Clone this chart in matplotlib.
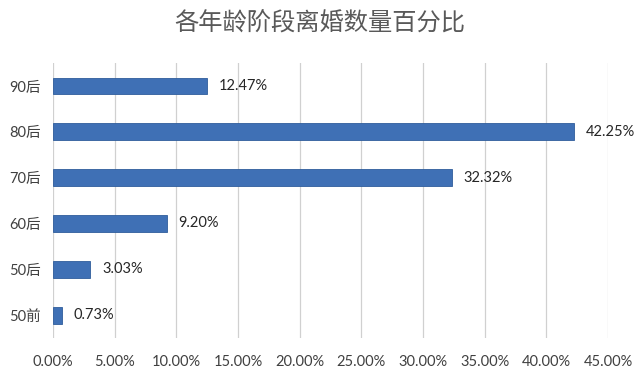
import matplotlib
matplotlib.use('Agg')
import matplotlib.pyplot as plt
from matplotlib.ticker import FuncFormatter

plt.rcParams['font.family'] = ['Lato', 'Noto Sans CJK SC', 'DejaVu Sans']

# data, bottom to top
groups = ['50前', '50后', '60后', '70后', '80后', '90后']
shares = [0.73, 3.03, 9.20, 32.32, 42.25, 12.47]
x_ticks = [0, 5, 10, 15, 20, 25, 30, 35, 40, 45]

fig = plt.figure(figsize=(6.4, 3.78), dpi=100)
ax = fig.add_axes([0.083, 0.106, 0.867, 0.727])

pos = list(range(len(groups)))
ax.barh(pos, shares, height=0.37, color='#3f70b5', edgecolor='#2f5d9c', linewidth=0.6, zorder=3)

# value labels right of each bar
for p, v in zip(pos, shares):
    ax.annotate('%.2f%%' % v, (v, p), xytext=(8.5, 0), textcoords='offset points',
                va='center', ha='left', fontsize=10.5, color='#262626')

ax.set_xlim(0, 45)
ax.set_ylim(-0.5, len(groups) - 0.5)
ax.set_xticks(x_ticks)
ax.xaxis.set_major_formatter(FuncFormatter(lambda x, _: '%.2f%%' % x))
ax.set_yticks(pos)
ax.set_yticklabels(groups)
ax.tick_params(axis='both', length=0, labelsize=10.5, colors='#404040')
ax.tick_params(axis='x', pad=12)
ax.tick_params(axis='y', pad=9)

ax.grid(axis='x', color='#d0d0d0', linewidth=0.9, zorder=0)
for s in ax.spines.values():
    s.set_visible(False)

fig.suptitle('各年龄阶段离婚数量百分比', x=0.5, y=0.972, fontsize=17.5,
             color='#595959', family=['Noto Sans CJK SC'], fontweight='light')

fig.savefig('out.png', dpi=100)
